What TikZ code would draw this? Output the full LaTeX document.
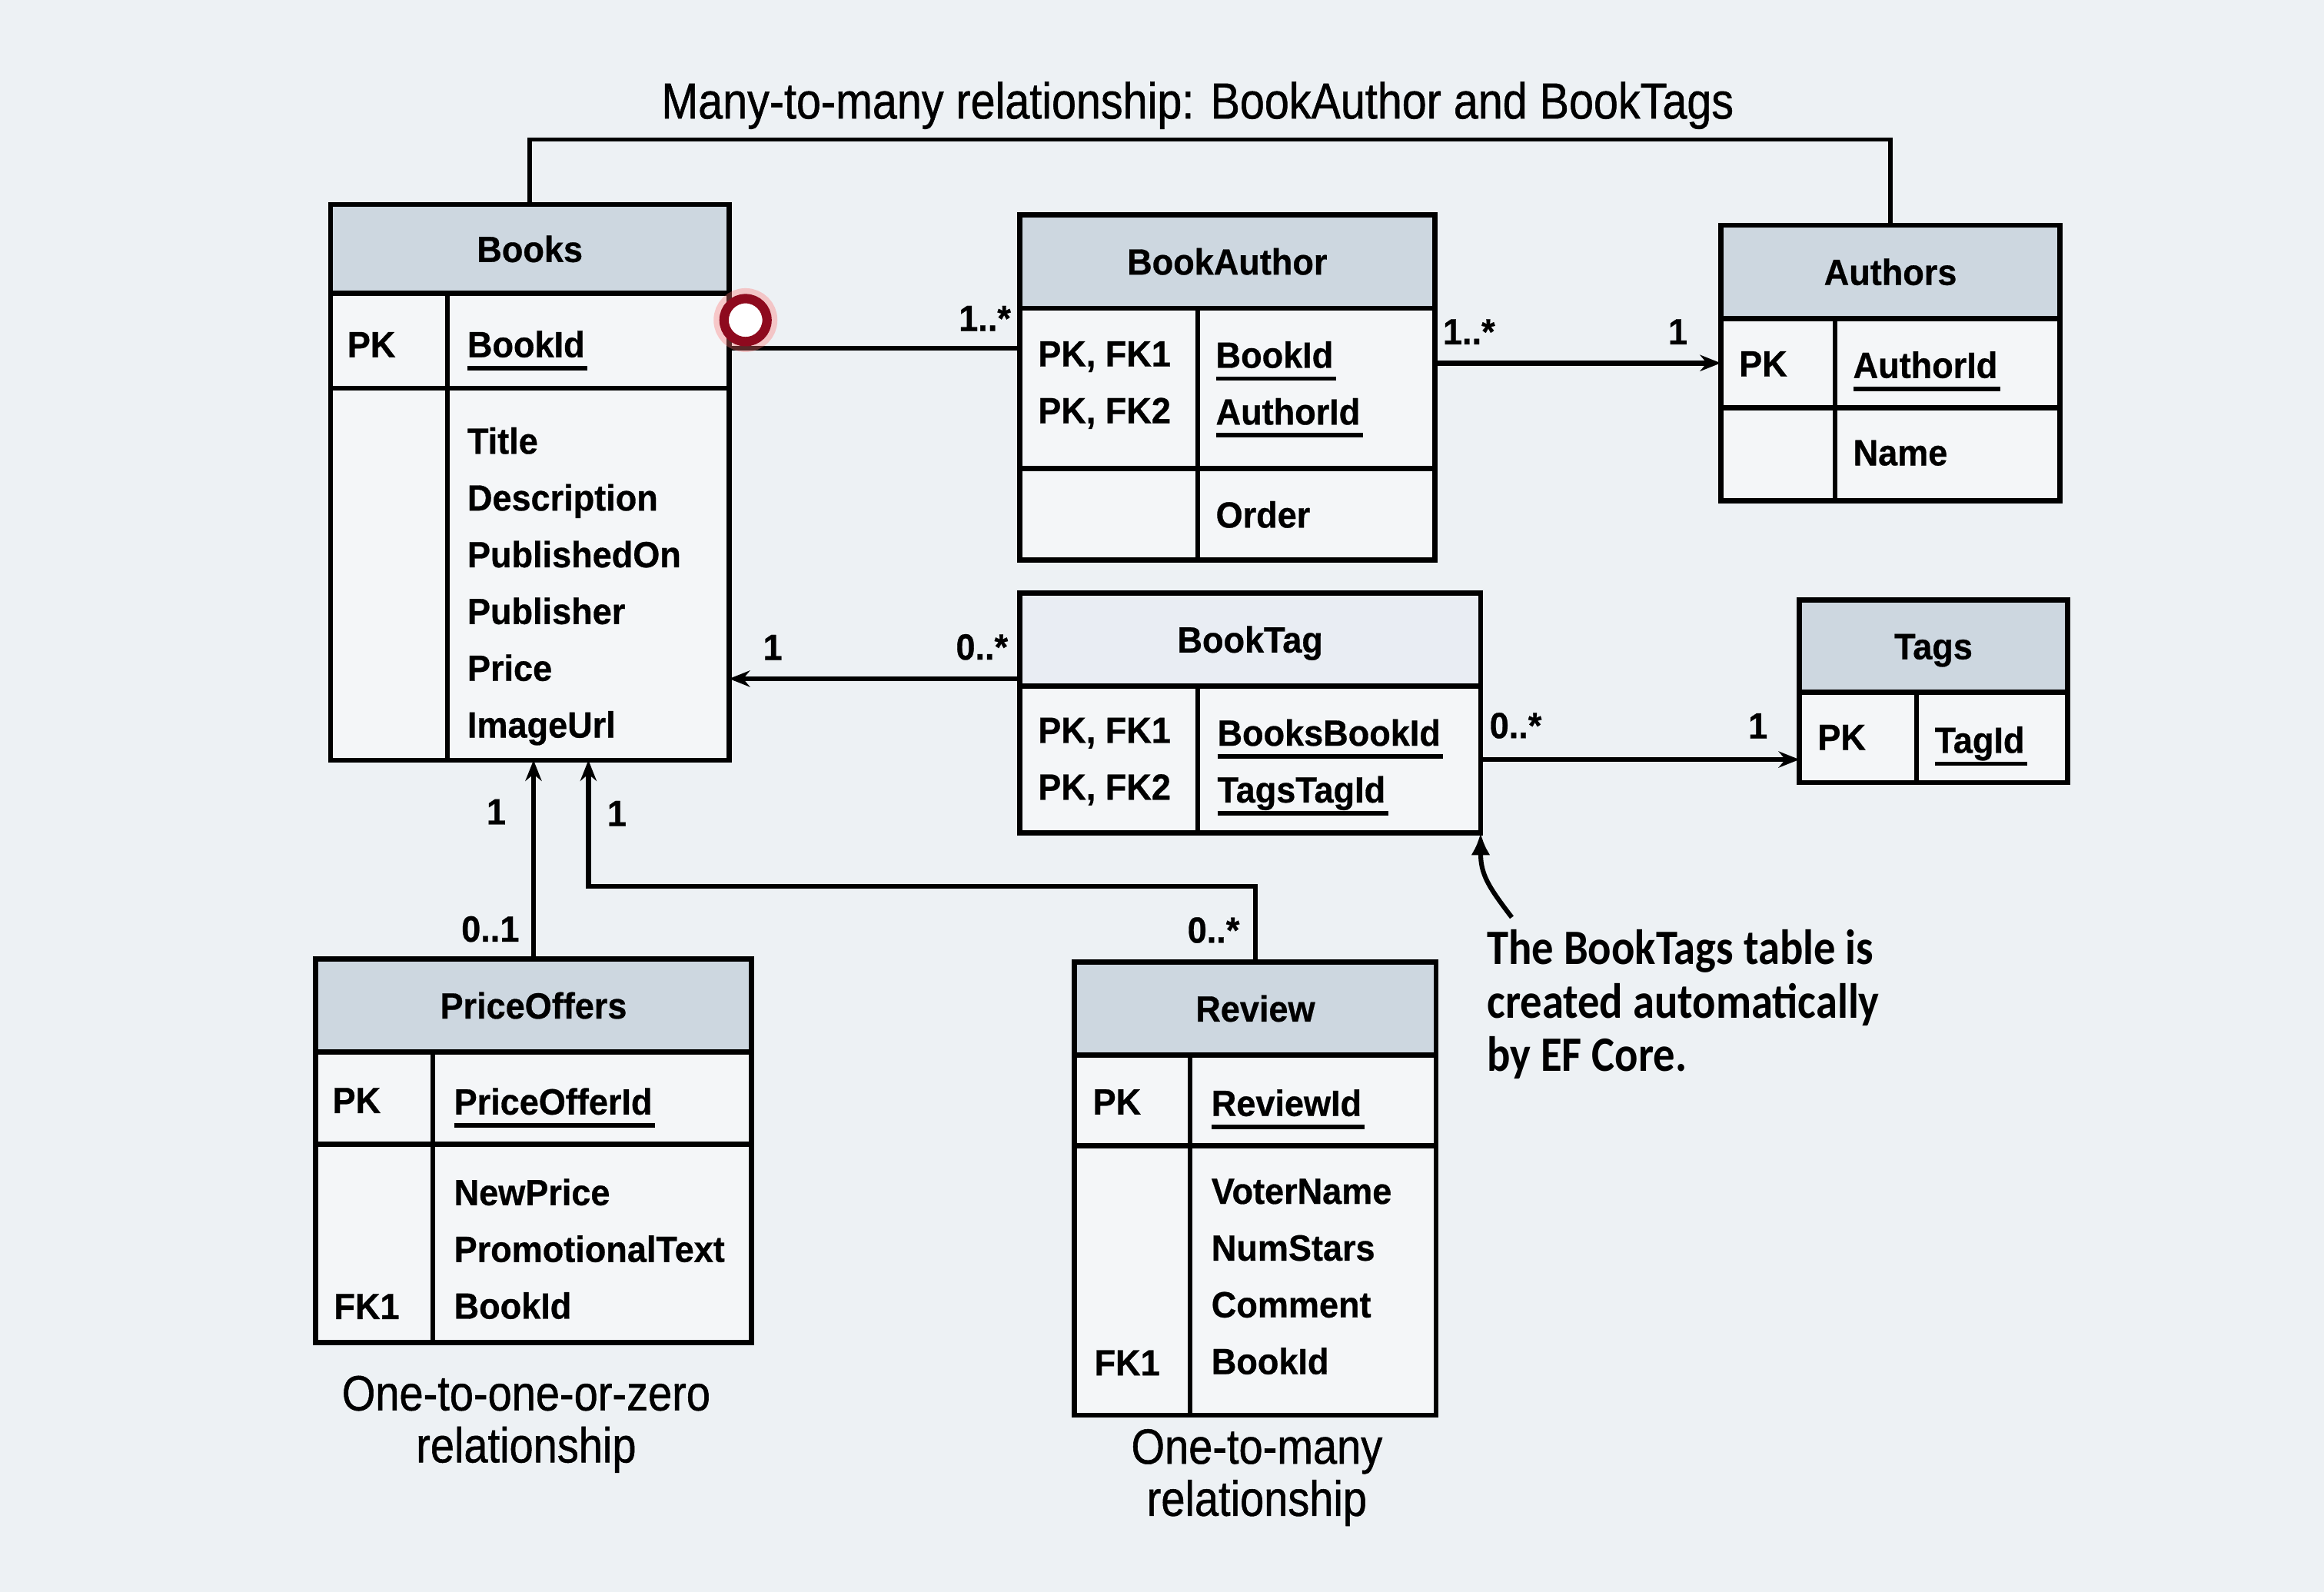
\documentclass[tikz,border=0pt]{standalone}
\usepackage{fontspec}
\setmainfont{Liberation Sans}
\newfontfamily\tabfont[FakeStretch=0.95,FakeBold=0.6]{Liberation Sans}
\newfontfamily\capfont[FakeStretch=0.87,FakeBold=0.8]{Liberation Sans}
\newfontfamily\notefont[FakeStretch=0.88]{Carlito}
\usetikzlibrary{positioning,arrows.meta}

\definecolor{bgcol}{HTML}{EDF1F4}
\definecolor{hdrcol}{HTML}{CDD7E0}
\definecolor{hdrlight}{HTML}{E9EDF3}
\definecolor{bodycol}{HTML}{F4F6F8}
\definecolor{ringred}{HTML}{8E0A1E}

% underlined key column
\newcommand{\pkul}[1]{\setbox0\hbox{#1}\rlap{\rule[-5pt]{\dimexpr\wd0+1pt\relax}{1.7pt}}\box0}

\tikzset{
  tbl/.style={draw, line width=2pt, inner sep=0pt, outer sep=0pt, anchor=north west},
  tblhead/.style={tbl, fill=hdrcol, text height=10pt, text depth=0pt,
    font=\tabfont\bfseries\fontsize{14}{16}\selectfont},
  tblrow/.style={tbl, fill=bodycol},
  key/.style={anchor=base west, inner sep=0pt, font=\tabfont\bfseries\fontsize{14}{16}\selectfont},
  fields/.style={anchor=north west, inner sep=0pt, align=left,
    font=\tabfont\bfseries\fontsize{14}{21.8}\selectfont},
  mult/.style={inner sep=0pt, font=\tabfont\bfseries\fontsize{14}{16}\selectfont},
  conn/.style={line width=1.9pt, -{Stealth[length=0.28cm,width=0.22cm]}},
  link/.style={line width=1.9pt},
  caption/.style={align=center, inner sep=0pt, font=\capfont\fontsize{19}{20}\selectfont},
  note/.style={anchor=north west, align=left, inner sep=0pt,
    font=\notefont\bfseries\fontsize{19}{20.5}\selectfont},
  ring/.style={circle, draw=ringred, line width=3.6pt, fill=white, minimum size=0.58cm,
    inner sep=0pt, preaction={draw=red!55, line width=8pt, draw opacity=0.35}},
}

\begin{document}
\begin{tikzpicture}[x=0.02cm, y=-0.02cm]
  \useasboundingbox (0,0) rectangle (1568,1074);
  \fill[bgcol] (0,0) rectangle (1568,1074);

  % Books
  \node[tblhead, minimum width=5.38cm, minimum height=1.2cm] (books-head) at (223,138) {Books};
  \node[tblrow, minimum width=5.38cm, minimum height=1.28cm, below=0pt of books-head] (books-pk) {};
  \node[tblrow, minimum width=5.38cm, minimum height=5.02cm, below=0pt of books-pk] (books-f) {};
  \draw[link] ([xshift=1.58cm]books-pk.north west) -- ([xshift=1.58cm]books-f.south west);
  \node[key] (books-k) at (234,241) {PK};
  \node[key] (books-id) at (315,241) {\pkul{BookId}};
  \node[fields] (books-fl) at (315,288) {Title\\Description\\PublishedOn\\Publisher\\Price\\ImageUrl};

  % BookAuthor
  \node[tblhead, minimum width=5.6cm, minimum height=1.26cm] (ba-head) at (688,145) {BookAuthor};
  \node[tblrow, minimum width=5.6cm, minimum height=2.16cm, below=0pt of ba-head] (ba-key) {};
  \node[tblrow, minimum width=5.6cm, minimum height=1.24cm, below=0pt of ba-key] (ba-f) {};
  \draw[link] ([xshift=2.4cm]ba-key.north west) -- ([xshift=2.4cm]ba-f.south west);
  \node[fields] (ba-k) at (700,230) {PK, FK1\\PK, FK2};
  \node[fields] (ba-id) at (820,230) {\pkul{BookId}\\\pkul{AuthorId}};
  \node[key] (ba-fl) at (820,356) {Order};

  % Authors
  \node[tblhead, minimum width=4.58cm, minimum height=1.26cm] (au-head) at (1161,152) {Authors};
  \node[tblrow, minimum width=4.58cm, minimum height=1.2cm, below=0pt of au-head] (au-pk) {};
  \node[tblrow, minimum width=4.58cm, minimum height=1.26cm, below=0pt of au-pk] (au-f) {};
  \draw[link] ([xshift=1.54cm]au-pk.north west) -- ([xshift=1.54cm]au-f.south west);
  \node[key] (au-k) at (1173,254) {PK};
  \node[key] (au-id) at (1250,255) {\pkul{AuthorId}};
  \node[key] (au-fl) at (1250,314) {Name};

  % BookTag
  \node[tblhead, fill=hdrlight, minimum width=6.22cm, minimum height=1.26cm] (bt-head) at (688,400) {BookTag};
  \node[tblrow, minimum width=6.22cm, minimum height=1.98cm, below=0pt of bt-head] (bt-key) {};
  \draw[link] ([xshift=2.4cm]bt-key.north west) -- ([xshift=2.4cm]bt-key.south west);
  \node[fields] (bt-k) at (700,484) {PK, FK1\\PK, FK2};
  \node[fields] (bt-id) at (821,485) {\pkul{BooksBookId}\\\pkul{TagsTagId}};

  % Tags
  \node[tblhead, minimum width=3.62cm, minimum height=1.24cm] (tg-head) at (1214,405) {Tags};
  \node[tblrow, minimum width=3.62cm, minimum height=1.22cm, below=0pt of tg-head] (tg-pk) {};
  \draw[link] ([xshift=1.58cm]tg-pk.north west) -- ([xshift=1.58cm]tg-pk.south west);
  \node[key] (tg-k) at (1226,506) {PK};
  \node[key] (tg-id) at (1305,508) {\pkul{TagId}};

  % PriceOffers
  \node[tblhead, minimum width=5.88cm, minimum height=1.26cm] (po-head) at (213,647) {PriceOffers};
  \node[tblrow, minimum width=5.88cm, minimum height=1.24cm, below=0pt of po-head] (po-pk) {};
  \node[tblrow, minimum width=5.88cm, minimum height=2.68cm, below=0pt of po-pk] (po-f) {};
  \draw[link] ([xshift=1.58cm]po-pk.north west) -- ([xshift=1.58cm]po-f.south west);
  \node[key] (po-k) at (224,751) {PK};
  \node[key] (po-id) at (306,752) {\pkul{PriceOfferId}};
  \node[fields] (po-fl) at (306,795) {NewPrice\\PromotionalText\\BookId};
  \node[key] (po-fk) at (225,890) {FK1};

  % Review
  \node[tblhead, minimum width=4.88cm, minimum height=1.26cm] (rv-head) at (725,649) {Review};
  \node[tblrow, minimum width=4.88cm, minimum height=1.22cm, below=0pt of rv-head] (rv-pk) {};
  \node[tblrow, minimum width=4.88cm, minimum height=3.64cm, below=0pt of rv-pk] (rv-f) {};
  \draw[link] ([xshift=1.56cm]rv-pk.north west) -- ([xshift=1.56cm]rv-f.south west);
  \node[key] (rv-k) at (737,752) {PK};
  \node[key] (rv-id) at (817,753) {\pkul{ReviewId}};
  \node[fields] (rv-fl) at (817,795) {VoterName\\NumStars\\Comment\\BookId};
  \node[key] (rv-fk) at (738,928) {FK1};

  % Many-to-many bracket
  \node[anchor=base, inner sep=0pt, font=\capfont\fontsize{19.5}{22}\selectfont] (title) at (808,80)
    {Many-to-many relationship: BookAuthor and BookTags};
  \coordinate (mmtop) at (808,94);
  \draw[link, line width=1.6pt] (books-head.north) |- (mmtop) -| (au-head.north);

  % Connections
  \draw[link] ([yshift=-0.1cm]books-pk.east) -- ([yshift=-0.1cm]books-pk.east -| ba-key.west)
    node[mult, pos=0.88, above=0.2cm] (m1) {1..*};
  \node[ring] (hole) at (503,216) {};
  \draw[conn] (ba-key.east |- au-pk.west) -- (au-pk.west)
    node[mult, pos=0.12, above=0.22cm] (m2) {1..*}
    node[mult, pos=0.85, above=0.22cm] (m3) {1};
  \draw[conn] ([yshift=0.1cm]bt-head.south west) -- ([yshift=0.1cm]bt-head.south west -| books-f.east)
    node[mult, pos=0.13, above=0.22cm] (m4) {0..*}
    node[mult, pos=0.85, above=0.22cm] (m5) {1};
  \draw[conn] (bt-key.east) -- (bt-key.east -| tg-pk.west)
    node[mult, pos=0.11, above=0.25cm] (m6) {0..*}
    node[mult, pos=0.87, above=0.25cm] (m7) {1};
  \draw[conn] (po-head.north) -- (po-head.north |- books-f.south)
    node[mult, pos=0.15, left=0.16cm] (m8) {0..1}
    node[mult, pos=0.74, left=0.34cm] (m9) {1};
  \coordinate (rvbend) at (397,598);
  \draw[conn] (rv-head.north) node[mult, anchor=south east, xshift=-0.18cm, yshift=0.22cm] (m10) {0..*}
    |- (rvbend) -- (rvbend |- books-f.south)
    node[mult, anchor=west, xshift=0.22cm, yshift=-0.72cm] (m11) {1};

  % Captions
  \node[caption] (po-cap) at (355,961) {One-to-one-or-zero\\relationship};
  \node[caption] (rv-cap) at (848,997) {One-to-many\\relationship};

  % Note on BookTag
  \node[note] (note) at (1003,627) {The BookTags table is\\created automatically\\by EF Core.};
  \coordinate (notetail) at (1020,619);
  \draw[line width=1.8pt, -{Latex[length=0.3cm,width=0.26cm]}] (notetail)
    .. controls (1004,598) and (999,590) .. (bt-key.south east);
\end{tikzpicture}
\end{document}
